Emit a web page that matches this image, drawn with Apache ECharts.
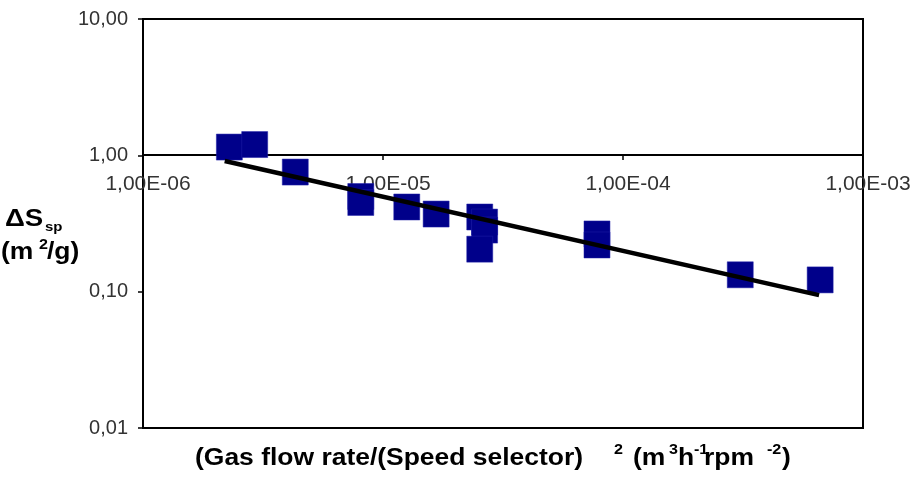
<!DOCTYPE html>
<html>
<head>
<meta charset="utf-8">
<script src="https://cdn.jsdelivr.net/npm/echarts@6/dist/echarts.min.js"></script>
<style>
html,body{margin:0;padding:0;background:#fff;}
#chart{width:921px;height:477px;}
</style>
</head>
<body>
<div id="chart"></div>
<script>
// ---- data ----
const xValues = [2.29e-6, 2.92e-6, 4.31e-6, 8.08e-6, 8.08e-6, 1.256e-5, 1.665e-5, 2.53e-5, 2.65e-5, 2.65e-5, 2.53e-5, 7.79e-5, 7.79e-5, 3.08e-4, 6.63e-4];
const yValues = [1.15, 1.20, 0.754, 0.499, 0.451, 0.418, 0.371, 0.353, 0.324, 0.283, 0.205, 0.265, 0.220, 0.133, 0.122];
const trendX = [2.19e-6, 6.56e-4];
const trendY = [0.908, 0.0944];
const xTickLabels = ['1,00E-06', '1,00E-05', '1,00E-04', '1,00E-03'];
const yTickLabels = ['0,01', '0,10', '1,00', '10,00'];

const FONT = '"Liberation Sans", Arial, sans-serif';
const chart = echarts.init(document.getElementById('chart'), null, {renderer: 'canvas'});

const points = xValues.map((x, i) => [x, yValues[i]]);
const trend = trendX.map((x, i) => [x, trendY[i]]);

function txt(x, y, s, size, sx) {
  return {
    type: 'text', x: x, y: y, scaleX: sx || 1.15, scaleY: 1, originX: 0, originY: 0, z: 10,
    style: {text: s, font: 'bold ' + size + 'px ' + FONT, fill: '#000', align: 'left', verticalAlign: 'middle'}
  };
}

const option = {
  backgroundColor: '#fff',
  animation: false,
  grid: [
    {left: 143, right: 58, top: 19, bottom: 49, show: true, borderColor: '#000', borderWidth: 2, backgroundColor: 'transparent'},
    {left: 143, right: 58, top: 19, height: 136, show: false}
  ],
  xAxis: [
    {type: 'log', logBase: 10, min: 1e-6, max: 1e-3, gridIndex: 0, show: false},
    {type: 'log', logBase: 10, min: 1e-6, max: 1e-3, gridIndex: 1, position: 'bottom',
     axisLine: {show: true, lineStyle: {color: '#000', width: 2}},
     axisTick: {show: true, inside: false, length: 5, lineStyle: {color: '#000', width: 1.5}},
     minorTick: {show: false},
     splitLine: {show: false},
     axisLabel: {
       margin: 19, fontSize: 21, color: '#333', fontFamily: FONT, padding: [0, 0, 0, 10],
       formatter: v => xTickLabels[Math.round(Math.log10(v)) + 6]
     }}
  ],
  yAxis: [
    {type: 'log', logBase: 10, min: 0.01, max: 10, gridIndex: 0,
     axisLine: {show: true, lineStyle: {color: '#000', width: 2}},
     axisTick: {show: true, inside: false, length: 5, lineStyle: {color: '#000', width: 1.5}},
     splitLine: {show: false},
     axisLabel: {
       margin: 15, fontSize: 20, color: '#333', fontFamily: FONT,
       formatter: v => yTickLabels[Math.round(Math.log10(v)) + 2]
     }},
    {type: 'log', logBase: 10, min: 1, max: 10, gridIndex: 1, show: false}
  ],
  series: [
    {type: 'scatter', xAxisIndex: 0, yAxisIndex: 0, data: points, symbol: 'rect', symbolSize: [26, 26],
     itemStyle: {color: '#00008a', opacity: 1, borderColor: '#2020a8', borderWidth: 0.5}, z: 2},
    {type: 'line', xAxisIndex: 0, yAxisIndex: 0, data: trend, symbol: 'none',
     lineStyle: {color: '#000', width: 4.5}, z: 3}
  ],
  graphic: [
    // y-axis title
    txt(5, 219, '\u0394S', 24),
    txt(45, 227, 'sp', 13),
    txt(1, 253, '(m', 23),
    txt(39, 245, '2', 14),
    txt(47, 253, '/g)', 23),
    // x-axis title
    txt(195, 459, '(Gas flow rate/(Speed selector)', 23),
    txt(614, 450, '2', 14),
    txt(633, 459, '(m', 23),
    txt(669, 450, '3', 14),
    txt(678, 459, 'h', 23),
    txt(694, 450, '-1', 14),
    txt(704, 459, 'rpm', 23),
    txt(767, 450, '-2', 14),
    txt(782, 459, ')', 23)
  ]
};
chart.setOption(option);
</script>
</body>
</html>
